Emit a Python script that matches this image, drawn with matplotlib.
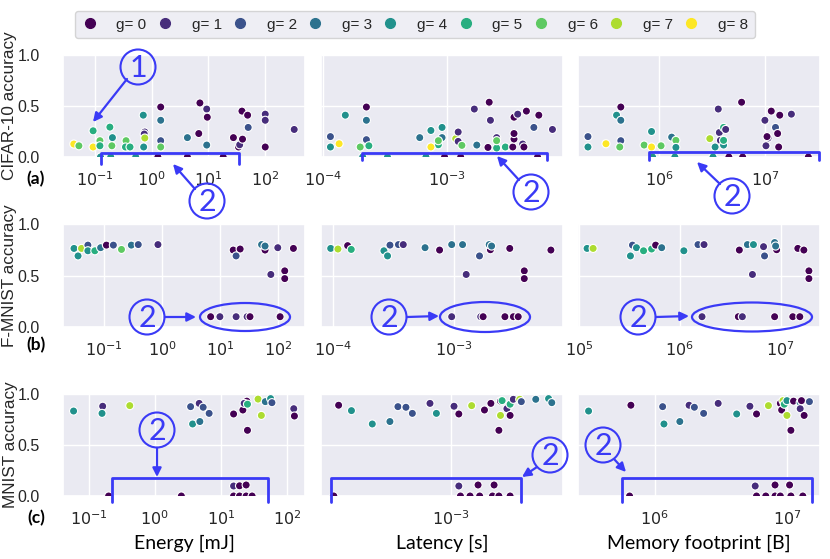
import numpy as np
import matplotlib
matplotlib.use('Agg')
import matplotlib.pyplot as plt
import seaborn as sns
from matplotlib.lines import Line2D
from matplotlib.patches import Circle, Ellipse
from matplotlib.ticker import FuncFormatter, LogLocator, NullFormatter

# each point: (log10 of x value, accuracy, g)
cifar_energy = [
    (-1.37, 0.127, 8), (-1.28, 0.11, 6), (-1.03, 0.257, 5), (-1.03, 0.098, 8),
    (-0.91, 0.16, 6), (-0.91, 0.11, 5), (-0.735, 0.293, 5), (-0.69, 0.19, 4),
    (-0.70, 0.11, 6), (-0.45, 0.16, 6), (-0.46, 0.098, 5), (-0.38, 0.098, 5),
    (-0.147, 0.41, 4), (-0.12, 0.245, 1), (-0.13, 0.225, 1), (-0.12, 0.186, 7),
    (-0.14, 0.098, 4), (0.16, 0.49, 0), (0.16, 0.36, 3), (0.16, 0.16, 2),
    (0.16, 0.098, 6), (0.63, 0.19, 3), (0.83, 0.23, 0), (0.85, 0.53, 0),
    (0.97, 0.47, 1), (0.98, 0.39, 0), (0.97, 0.117, 3), (1.44, 0.19, 0),
    (1.53, 0.098, 0), (1.55, 0.12, 1), (1.6, 0.175, 0), (1.59, 0.45, 0),
    (1.69, 0.41, 0), (1.70, 0.29, 2), (2.0, 0.42, 1), (2.0, 0.36, 1),
    (2.0, 0.098, 0), (2.51, 0.27, 1),
    (-0.9, 0.0, 4), (-0.72, 0.0, 4), (-0.28, 0.0, 4), (0.11, 0.0, 0),
    (0.63, 0.0, 0), (1.26, 0.0, 0),
]
cifar_latency = [
    (-3.94, 0.20, 2), (-3.94, 0.098, 4), (-3.87, 0.13, 8), (-3.82, 0.41, 4),
    (-3.65, 0.49, 0), (-3.65, 0.36, 3), (-3.65, 0.17, 2), (-3.70, 0.098, 6),
    (-3.63, 0.11, 5), (-3.22, 0.19, 3), (-3.13, 0.26, 4), (-3.04, 0.29, 4),
    (-3.04, 0.19, 3), (-3.07, 0.12, 5), (-3.07, 0.16, 6), (-3.13, 0.098, 8),
    (-2.93, 0.18, 7), (-2.91, 0.245, 1), (-2.91, 0.153, 1), (-2.88, 0.114, 6),
    (-2.78, 0.47, 1), (-2.76, 0.117, 3), (-2.66, 0.537, 0), (-2.65, 0.36, 1),
    (-2.67, 0.094, 0), (-2.6, 0.19, 1), (-2.6, 0.088, 5), (-2.6, 0.16, 6),
    (-2.53, 0.098, 5), (-2.47, 0.098, 0), (-2.46, 0.176, 0), (-2.46, 0.23, 0),
    (-2.46, 0.39, 0), (-2.43, 0.42, 1), (-2.36, 0.45, 0), (-2.39, 0.127, 1),
    (-2.38, 0.098, 0), (-2.26, 0.41, 0), (-2.30, 0.29, 2), (-2.15, 0.27, 1),
    (-3.68, 0.0, 4), (-3.48, 0.0, 4), (-3.17, 0.0, 4), (-3.02, 0.0, 0),
    (-2.89, 0.0, 0), (-2.27, 0.0, 0),
]
cifar_memory = [
    (5.33, 0.20, 2), (5.33, 0.098, 4), (5.50, 0.13, 8), (5.60, 0.41, 4),
    (5.64, 0.49, 0), (5.64, 0.36, 3), (5.64, 0.16, 2), (5.63, 0.098, 6),
    (5.86, 0.117, 6), (5.93, 0.25, 4), (5.93, 0.098, 8), (6.02, 0.11, 6),
    (6.12, 0.195, 3), (6.16, 0.163, 6), (6.16, 0.094, 4), (6.48, 0.18, 7),
    (6.53, 0.098, 4), (6.56, 0.47, 1), (6.57, 0.24, 1), (6.58, 0.163, 1),
    (6.61, 0.117, 4), (6.61, 0.29, 5), (6.61, 0.163, 5), (6.63, 0.27, 1),
    (6.78, 0.537, 0), (7.0, 0.36, 1), (7.03, 0.186, 1), (7.01, 0.11, 1),
    (7.06, 0.45, 0), (7.10, 0.29, 2), (7.12, 0.23, 0), (7.13, 0.098, 0),
    (7.14, 0.41, 0), (7.02, 0.2, 0), (7.25, 0.42, 1),
    (5.94, 0.0, 4), (6.15, 0.0, 4), (6.51, 0.0, 4), (6.66, 0.0, 0),
    (6.79, 0.0, 0), (7.41, 0.0, 0),
]
fmnist_energy = [
    (-1.52, 0.763, 4), (-1.45, 0.69, 4), (-1.39, 0.763, 7), (-1.28, 0.795, 2),
    (-1.28, 0.74, 4), (-1.16, 0.74, 5), (-1.06, 0.77, 3), (-0.96, 0.795, 0),
    (-0.84, 0.795, 2), (-0.70, 0.753, 6), (-0.53, 0.795, 3), (-0.41, 0.80, 2),
    (-0.07, 0.80, 1), (1.23, 0.747, 0), (1.35, 0.757, 0), (1.28, 0.69, 2),
    (1.72, 0.80, 3), (1.78, 0.747, 0), (1.78, 0.786, 3), (1.88, 0.51, 1),
    (2.0, 0.77, 1), (2.12, 0.545, 0), (2.12, 0.47, 0), (2.27, 0.763, 0),
    (0.84, 0.1, 0), (1.0, 0.1, 1), (1.28, 0.1, 1), (1.47, 0.1, 1),
    (1.52, 0.1, 0), (2.04, 0.1, 0),
]
fmnist_latency = [
    (-4.02, 0.763, 4), (-3.96, 0.757, 7), (-3.88, 0.79, 0), (-3.85, 0.753, 5),
    (-3.58, 0.74, 4), (-3.55, 0.69, 4), (-3.53, 0.795, 2), (-3.46, 0.80, 2),
    (-3.42, 0.80, 1), (-3.24, 0.77, 3), (-3.12, 0.747, 0), (-3.02, 0.80, 3),
    (-2.93, 0.80, 3), (-2.79, 0.69, 2), (-2.90, 0.51, 1), (-2.70, 0.75, 0),
    (-2.71, 0.80, 3), (-2.69, 0.786, 3), (-2.54, 0.763, 0), (-2.42, 0.545, 0),
    (-2.42, 0.47, 0), (-2.20, 0.747, 0),
    (-3.02, 0.1, 1), (-2.78, 0.1, 1), (-2.76, 0.1, 0), (-2.58, 0.1, 0),
    (-2.51, 0.1, 0), (-2.47, 0.1, 0),
]
fmnist_memory = [
    (5.08, 0.763, 4), (5.14, 0.763, 7), (5.51, 0.69, 4), (5.53, 0.795, 2),
    (5.57, 0.77, 4), (5.64, 0.74, 5), (5.72, 0.757, 5), (5.76, 0.795, 0),
    (5.82, 0.77, 3), (6.04, 0.74, 4), (6.18, 0.80, 2), (6.24, 0.80, 1),
    (6.59, 0.747, 0), (6.67, 0.80, 3), (6.73, 0.80, 4), (6.83, 0.78, 1),
    (6.84, 0.69, 2), (6.96, 0.75, 0), (6.94, 0.82, 3), (6.95, 0.786, 3),
    (6.72, 0.51, 1), (7.17, 0.763, 0), (7.23, 0.747, 0), (7.28, 0.545, 0),
    (7.28, 0.47, 0),
    (6.22, 0.1, 1), (6.58, 0.1, 0), (6.62, 0.1, 1), (6.94, 0.1, 0),
    (7.12, 0.1, 0), (7.19, 0.1, 0),
]
mnist_energy = [
    (-1.23, 0.833, 4), (-0.79, 0.88, 1), (-0.80, 0.81, 4), (-0.38, 0.886, 7),
    (0.54, 0.876, 2), (0.67, 0.908, 1), (0.73, 0.87, 2), (0.82, 0.81, 2),
    (0.57, 0.706, 4), (0.68, 0.73, 3), (1.19, 0.804, 0), (1.33, 0.843, 0),
    (1.39, 0.93, 0), (1.35, 0.908, 1), (1.40, 0.644, 0), (1.40, 0.90, 5),
    (1.56, 0.95, 7), (1.61, 0.79, 7), (1.67, 0.925, 3), (1.75, 0.955, 4),
    (1.77, 0.915, 2), (2.10, 0.856, 1), (2.11, 0.784, 0),
    (1.19, 0.098, 1), (1.28, 0.1, 0), (1.38, 0.108, 0),
    (-0.70, 0.0, 0), (0.40, 0.0, 0), (1.19, 0.0, 0), (1.28, 0.0, 0),
    (1.38, 0.0, 0), (1.47, 0.0, 0),
]
mnist_latency = [
    (-3.70, 0.89, 0), (-3.62, 0.837, 4), (-3.49, 0.706, 4), (-3.38, 0.73, 3),
    (-3.33, 0.876, 2), (-3.28, 0.87, 2), (-3.24, 0.81, 2), (-3.13, 0.908, 1),
    (-3.09, 0.81, 4), (-2.98, 0.88, 1), (-2.95, 0.804, 0), (-2.87, 0.886, 7),
    (-2.79, 0.843, 0), (-2.75, 0.908, 0), (-2.70, 0.644, 0), (-2.69, 0.79, 7),
    (-2.69, 0.93, 0), (-2.68, 0.935, 5), (-2.65, 0.856, 1), (-2.63, 0.79, 0),
    (-2.63, 0.90, 5), (-2.61, 0.948, 1), (-2.57, 0.948, 7), (-2.56, 0.925, 2),
    (-2.47, 0.948, 3), (-2.39, 0.955, 4), (-2.37, 0.915, 3),
    (-2.95, 0.098, 1), (-2.83, 0.108, 0), (-2.73, 0.108, 0),
    (-3.73, 0.0, 0), (-2.94, 0.0, 0), (-2.88, 0.0, 0), (-2.82, 0.0, 0),
    (-2.74, 0.0, 0), (-2.70, 0.0, 0), (-2.63, 0.0, 0),
]
mnist_memory = [
    (5.50, 0.833, 4), (5.82, 0.89, 0), (6.06, 0.876, 2), (6.07, 0.706, 4),
    (6.19, 0.73, 3), (6.26, 0.89, 1), (6.30, 0.87, 2), (6.37, 0.81, 2),
    (6.48, 0.908, 1), (6.62, 0.804, 4), (6.72, 0.88, 1), (6.77, 0.804, 0),
    (6.86, 0.886, 7), (6.95, 0.908, 0), (6.96, 0.843, 0), (6.97, 0.935, 7),
    (6.98, 0.90, 5), (7.00, 0.935, 4), (7.00, 0.79, 7), (7.03, 0.644, 0),
    (7.05, 0.93, 0), (7.10, 0.915, 3), (7.10, 0.856, 1), (7.11, 0.935, 0),
    (7.13, 0.79, 0), (7.17, 0.925, 2),
    (6.76, 0.098, 1), (6.91, 0.108, 0), (7.02, 0.108, 0),
    (5.81, 0.0, 0), (6.77, 0.0, 0), (6.84, 0.0, 0), (6.91, 0.0, 0),
    (6.95, 0.0, 0), (7.03, 0.0, 0), (7.12, 0.0, 0),
]

datasets = ["CIFAR-10 accuracy", "F-MNIST accuracy", "MNIST accuracy"]
panel_tags = ["(a)", "(b)", "(c)"]
metrics = ["Energy [mJ]", "Latency [s]", "Memory footprint [B]"]
g_levels = list(range(9))
y_ticks = [0.0, 0.5, 1.0]

panels = [
    [cifar_energy, cifar_latency, cifar_memory],
    [fmnist_energy, fmnist_latency, fmnist_memory],
    [mnist_energy, mnist_latency, mnist_memory],
]
# x range of each panel, log10
x_ranges = [
    [(-1.56, 2.70), (-4.016, -2.065), (5.236, 7.52)],
    [(-1.71, 2.47), (-4.10, -2.10), (4.99, 7.39)],
    [(-1.39, 2.27), (-3.81, -2.30), (5.42, 7.25)],
]

# layout in pixels (figure is 830 x 559)
W, H = 830, 559
col_left = [63, 321, 578]
col_width = 242
row_top = [55, 224, 394]
row_height = [102, 103, 102]

BLUE = "#3a3af6"
# hand-drawn call-outs, in figure pixels
circle_marks = [("1", 138, 67), ("2", 207, 201), ("2", 531, 192),
                ("2", 732, 196), ("2", 147, 317), ("2", 389, 317),
                ("2", 638, 317), ("2", 157, 430), ("2", 550, 455),
                ("2", 603, 445)]
arrow_marks = [((127, 79), (93, 122)), ((195, 189), (173, 164)),
               ((519, 180), (497, 156)), ((720, 184), (697, 162)),
               ((165, 317), (196, 317)), ((407, 317), (439, 316)),
               ((656, 317), (689, 316)), ((157, 448), (157, 477)),
               ((537, 467), (522, 477)), ((614, 459), (626, 472))]
bracket_marks = [(101, 239, 153, 164), (362, 547, 153, 160),
                 (649, 819, 152, 160), (112, 268, 478, 502),
                 (331, 521, 478, 502), (622, 812, 478, 502)]
ellipse_marks = [(245, 317, 90, 28), (485, 317, 90, 30), (752, 317, 120, 29)]


def log_label(v, pos):
    return r"$10^{%d}$" % int(round(np.log10(v)))


def draw():
    sns.set_theme(style="darkgrid")
    plt.rcParams["font.family"] = ["Liberation Sans", "DejaVu Sans"]
    plt.rcParams["xtick.major.pad"] = 3.5
    plt.rcParams["ytick.major.pad"] = 10.5

    cmap = plt.get_cmap("viridis")
    colors = [cmap(g / 8) for g in g_levels]

    fig = plt.figure(figsize=(W / 100, H / 100), dpi=100)

    for r in range(3):
        for c in range(3):
            ax = fig.add_axes([col_left[c] / W,
                               1 - (row_top[r] + row_height[r]) / H,
                               col_width / W, row_height[r] / H])
            x, y, g = zip(*panels[r][c])
            ax.scatter(10 ** np.array(x), y, c=[colors[k] for k in g], s=34,
                       edgecolors="white", linewidths=0.8, zorder=3)
            ax.set_xscale("log")
            lo, hi = x_ranges[r][c]
            ax.set_xlim(10 ** lo, 10 ** hi)
            ax.set_ylim(0, 1)
            ax.xaxis.set_major_locator(LogLocator(base=10, numticks=20))
            ax.xaxis.set_major_formatter(FuncFormatter(log_label))
            ax.xaxis.set_minor_formatter(NullFormatter())
            ax.set_yticks(y_ticks)
            ax.set_yticklabels(["%.1f" % t for t in y_ticks])
            ax.tick_params(labelsize=11.5, colors=".15")
            if c > 0:
                ax.tick_params(labelleft=False)

    # axis titles
    for r in range(3):
        yc = row_top[r] + row_height[r] / 2
        fig.text(10 / W, 1 - yc / H, datasets[r], rotation=90,
                 ha="center", va="center", fontsize=12.3, color=".15")
    for r, yp in enumerate([179, 345, 518]):
        fig.text(36 / W, 1 - yp / H, panel_tags[r], ha="center", va="center",
                 fontsize=12.5, fontweight="bold", family="Lato",
                 color="black")
    for c in range(3):
        fig.text((col_left[c] + col_width / 2) / W, 1 - 543 / H, metrics[c],
                 ha="center", va="center", fontsize=14, family="Lato",
                 color="black")

    handles = [Line2D([], [], marker="o", ls="", markersize=7,
                      markerfacecolor=colors[g], markeredgecolor=colors[g])
               for g in g_levels]
    fig.legend(handles, ["g= %d" % g for g in g_levels], loc="center",
               bbox_to_anchor=(415 / W, 1 - 24.5 / H), ncol=9, fontsize=11,
               handlelength=1.0, handletextpad=1.25, columnspacing=0.7,
               frameon=True, facecolor="#eaeaf2", edgecolor="0.8",
               borderpad=0.45)

    # call-out layer in pixel coordinates
    over = fig.add_axes([0, 0, 1, 1], zorder=10)
    over.set_xlim(0, W)
    over.set_ylim(H, 0)
    over.axis("off")
    for x0, x1, y0, y1 in bracket_marks:
        over.plot([x0, x0, x1, x1], [y1, y0, y0, y1], color=BLUE, lw=2,
                  solid_joinstyle="round")
    for cx, cy, w, h in ellipse_marks:
        over.add_patch(Ellipse((cx, cy), w, h, fill=False, ec=BLUE, lw=1.6))
    for tail, head in arrow_marks:
        over.annotate("", xy=head, xytext=tail,
                      arrowprops=dict(arrowstyle="-|>", color=BLUE, lw=1.6,
                                      mutation_scale=13, shrinkA=0,
                                      shrinkB=0))
    for txt, cx, cy in circle_marks:
        over.add_patch(Circle((cx, cy), 17.5, fill=False, ec=BLUE, lw=1.5))
        over.text(cx, cy + 1, txt, ha="center", va="center", fontsize=22,
                  family="Lato", color=BLUE)

    fig.savefig("out.png", dpi=100)


if __name__ == "__main__":
    draw()
